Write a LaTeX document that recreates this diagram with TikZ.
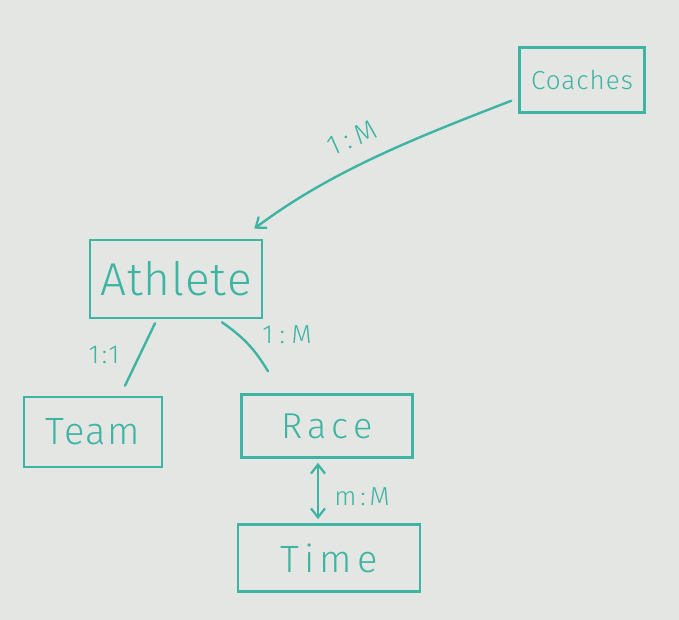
\documentclass[tikz,border=0pt]{standalone}
\usepackage{fontspec}
\setmainfont{Fira Sans Light}
\usetikzlibrary{arrows.meta,calc}
\definecolor{marker}{RGB}{62,180,163}
\definecolor{board}{RGB}{228,230,227}
\newcommand{\fsz}[2]{\fontsize{#1}{#1}\selectfont\addfontfeatures{LetterSpace=#2}}
\begin{document}
\begin{tikzpicture}[x=1pt,y=-1pt,
  ent/.style={draw=marker,line width=2.6pt,text=marker,inner sep=0pt},
  lab/.style={text=marker,inner sep=0pt},
  conn/.style={draw=marker,line width=2.4pt,line cap=round},
  tip/.style={-{Straight Barb[length=9pt,width=14pt,line width=2.2pt]}}]
\fill[board] (0,0) rectangle (679,620);
\useasboundingbox (0,0) rectangle (679,620);
\node[ent,minimum width=125pt,minimum height=65pt,font=\fsz{26}{4}] (coaches) at (582,80) {Coaches};
\node[ent,minimum width=172pt,minimum height=78pt,font=\fsz{46}{2}] (athlete) at (176,279) {Athlete};
\node[ent,minimum width=138pt,minimum height=70pt,font=\fsz{38}{4}] (team) at (93,432) {Team};
\node[ent,minimum width=171pt,minimum height=63pt,font=\fsz{36}{14}] (race) at (327,426) {Race};
\node[ent,minimum width=182pt,minimum height=67pt,font=\fsz{38}{14}] (time) at (329,558) {Time};
\coordinate (cs) at ($(coaches.south west)+(-7,-13)$);
\coordinate (ae) at ($(athlete.north east)+(-9,-10)$);
\draw[conn,tip] (cs) .. controls ($(cs)+(-93,36)$) and ($(ae)+(77,-58)$) .. (ae);
\node[lab,font=\fsz{28}{20},rotate=24] (l1) at (352,138) {1:M};
\draw[conn] ($(athlete.south)+(-21,4)$) -- ($(team.north)+(32,-10)$);
\node[lab,font=\fsz{26}{10}] (l2) at (104,355) {1:1};
\draw[conn] ($(athlete.south)+(46,3)$) to[bend left=12] ($(race.north)+(-59,-22)$);
\node[lab,font=\fsz{26}{25}] (l3) at (287,335) {1:M};
\draw[conn,{Straight Barb[length=9pt,width=14pt,line width=2.2pt]}-{Straight Barb[length=9pt,width=14pt,line width=2.2pt]}] ($(race.south)+(-9,4)$) -- ($(time.north)+(-11,-4)$);
\node[lab,font=\fsz{26}{15}] (l4) at (362,497) {m:M};
\end{tikzpicture}
\end{document}
